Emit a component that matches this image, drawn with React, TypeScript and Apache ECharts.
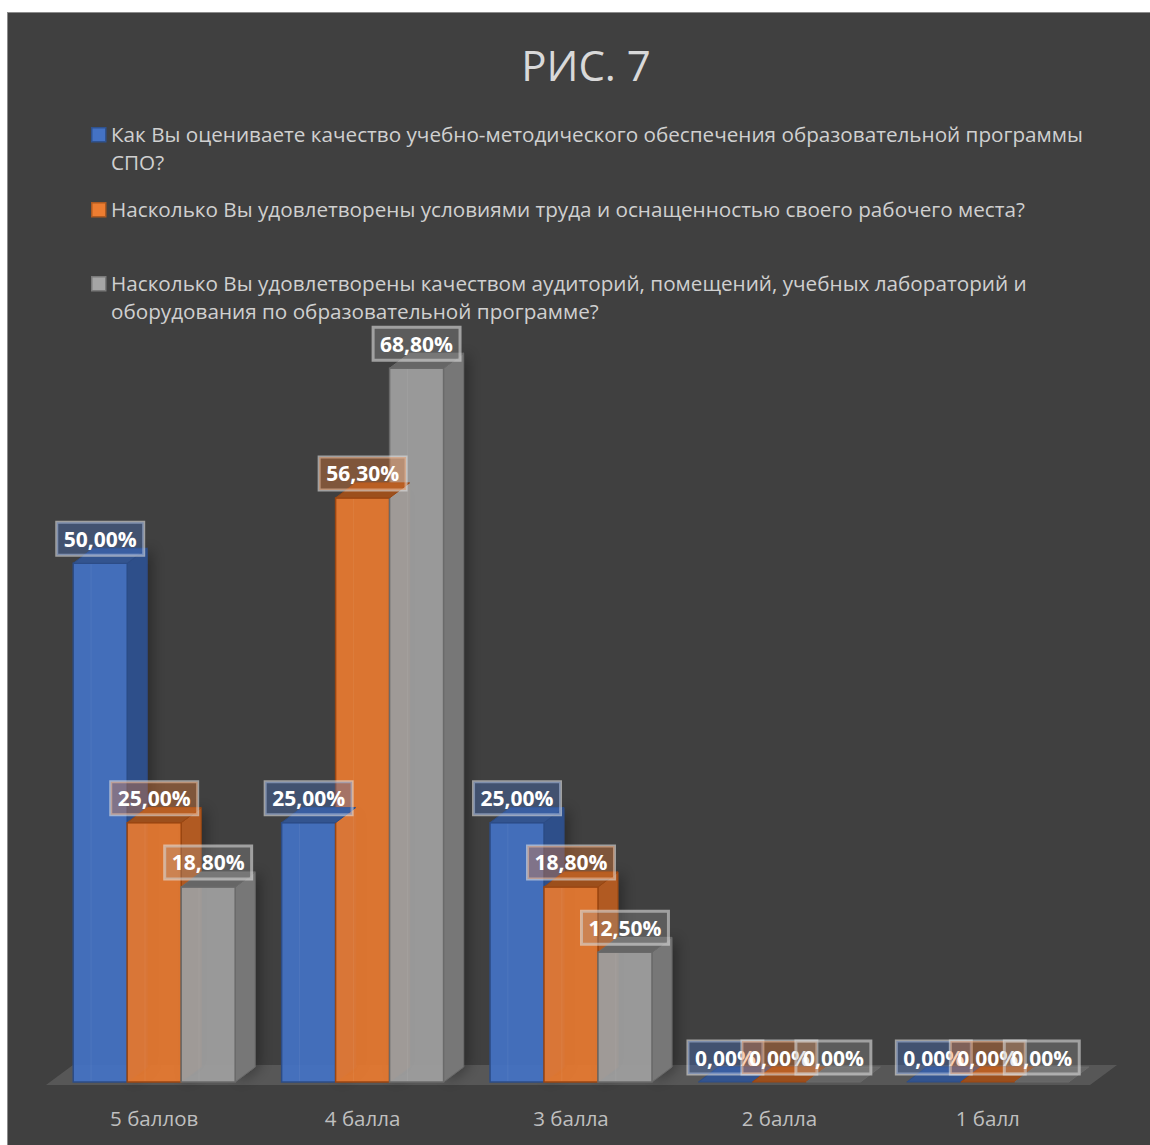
import React, { useEffect, useRef } from "react";
import * as echarts from "echarts";

const TITLE = "РИС. 7";
const CATEGORIES = ["5 баллов", "4 балла", "3 балла", "2 балла", "1 балл"];
const SERIES_NAMES = [
  "Как Вы оцениваете качество учебно-методического обеспечения образовательной программы СПО?",
  "Насколько Вы удовлетворены условиями труда и оснащенностью своего рабочего места?",
  "Насколько Вы удовлетворены качеством аудиторий, помещений, учебных лабораторий и оборудования по образовательной программе?",
];
const LEGEND_LINES = [
  ["Как Вы оцениваете качество учебно-методического обеспечения образовательной программы", "СПО?"],
  ["Насколько Вы удовлетворены условиями труда и оснащенностью своего рабочего места?"],
  ["Насколько Вы удовлетворены качеством аудиторий, помещений, учебных лабораторий и", "оборудования по образовательной программе?"],
];
const LEGEND_CENTERS = [121, 196, 270];

const VALUES_1 = [50, 25, 25, 0, 0];
const VALUES_2 = [25, 56.3, 18.8, 0, 0];
const VALUES_3 = [18.8, 68.8, 12.5, 0, 0];
const SERIES_VALUES = [VALUES_1, VALUES_2, VALUES_3];

const Y_MIN = 0;
const Y_MAX = 80;

const PALETTE = [
  { front: "rgba(68,114,196,0.93)", stroke: "#2c4c86", top: "#33548f", side: "#2f4f8a", labelBg: "rgba(68,114,196,0.36)", legend: "#4472c4", legendStroke: "#2f528f" },
  { front: "rgba(232,122,48,0.92)", stroke: "#9a4612", top: "#9c4f1c", side: "#b15a20", labelBg: "rgba(237,125,49,0.36)", legend: "#ed7d31", legendStroke: "#ae5a21" },
  { front: "rgba(158,158,158,0.95)", stroke: "#6a6a6a", top: "#666666", side: "#777777", labelBg: "rgba(165,165,165,0.28)", legend: "#a5a5a5", legendStroke: "#7a7a7a" },
];

const BAR_RATIO = 0.259;
const DEPTH_X = 20;
const DEPTH_Y = 15;

const fmt = (v: number) => v.toFixed(2).replace(".", ",") + "%";

function makeRenderItem(sIdx: number) {
  return (params: any, api: any) => {
    const cat = api.value(0);
    const val = api.value(1);
    const base = api.coord([cat, 0]);
    const topP = api.coord([cat, val]);
    const band = api.size([1, 0])[0];
    const w = band * BAR_RATIO;
    const cx = base[0] + (sIdx - 1) * w;
    const x0 = cx - w / 2;
    const x1 = cx + w / 2;
    const yb = base[1];
    const yt = topP[1];
    const c = PALETTE[sIdx];
    const children: any[] = [];

    if (sIdx === 0 && params.dataIndex === 0) {
      const first = api.coord([0, 0]);
      const last = api.coord([CATEGORIES.length - 1, 0]);
      const fx0 = first[0] - band / 2 - 4;
      const fx1 = last[0] + band / 2 - 2;
      const fy = yb + 3;
      children.push({
        type: "polygon",
        z2: -10,
        shape: { points: [[fx0, fy], [fx1, fy], [fx1 + 27, fy - 20], [fx0 + 27, fy - 20]] },
        style: { fill: "rgba(92,92,92,0.85)" },
        silent: true,
      });
    }

    const h = yb - yt;
    if (h > 0.5) {
      children.push({
        type: "polygon",
        z2: 1,
        shape: { points: [[x1, yt], [x1 + DEPTH_X, yt - DEPTH_Y], [x1 + DEPTH_X, yb - DEPTH_Y], [x1, yb]] },
        style: { fill: c.side, stroke: c.stroke, lineWidth: 1, shadowBlur: 14, shadowColor: "rgba(0,0,0,0.35)", shadowOffsetX: 4 },
      });
      children.push({
        type: "rect",
        z2: 2,
        shape: { x: x0, y: yt, width: w, height: h },
        style: { fill: c.front, stroke: c.stroke, lineWidth: 1.5 },
      });
      children.push({
        type: "line",
        z2: 3,
        shape: { x1: x0 + w * 0.33, y1: yt + 1, x2: x0 + w * 0.33, y2: yb - 1 },
        style: { stroke: "rgba(255,255,255,0.06)", lineWidth: 1 },
      });
    }
    children.push({
      type: "polygon",
      z2: 4,
      shape: { points: [[x0, yt], [x1, yt], [x1 + DEPTH_X, yt - DEPTH_Y], [x0 + DEPTH_X, yt - DEPTH_Y]] },
      style: { fill: c.top, stroke: c.stroke, lineWidth: 1 },
    });
    children.push({
      type: "text",
      z2: 100,
      x: cx,
      y: yt - 8,
      style: {
        text: fmt(val),
        font: 'bold 21px "Open Sans"',
        fill: "#ffffff",
        align: "center",
        verticalAlign: "bottom",
        backgroundColor: c.labelBg,
        borderColor: "rgba(225,225,225,0.6)",
        borderWidth: 1.5,
        padding: [6, 7, 6, 7],
      },
    });
    return { type: "group", children };
  };
}

export default function App() {
  const ref = useRef<HTMLDivElement>(null);
  useEffect(() => {
    if (!ref.current) return;
    const chart = echarts.init(ref.current, undefined, { renderer: "svg" });
    const graphic: any[] = [];
    LEGEND_LINES.forEach((lines, i) => {
      const cy = LEGEND_CENTERS[i];
      graphic.push({
        type: "rect",
        left: 83,
        top: cy - 7,
        shape: { width: 14, height: 14 },
        style: { fill: PALETTE[i].legend, stroke: PALETTE[i].legendStroke, lineWidth: 1.5 },
      });
      graphic.push({
        type: "text",
        x: 103,
        y: cy - 14,
        style: {
          text: lines.join("\n"),
          font: '20.7px "Open Sans"',
          lineHeight: 28,
          fill: "#d0d0d0",
          verticalAlign: "top",
        },
      });
    });
    chart.setOption({
      animation: false,
      backgroundColor: "#404040",
      title: {
        text: TITLE,
        left: "center",
        top: 25,
        textStyle: { color: "#d9d9d9", fontSize: 42, fontWeight: "normal", fontFamily: "Open Sans" },
      },
      graphic,
      grid: { left: 42, right: 72, top: 239, bottom: 71 },
      xAxis: {
        type: "category",
        data: CATEGORIES,
        axisLine: { show: false },
        axisTick: { show: false },
        axisLabel: { color: "#bfbfbf", fontSize: 20.5, fontFamily: "Open Sans", margin: 25 },
      },
      yAxis: {
        type: "value",
        min: Y_MIN,
        max: Y_MAX,
        show: false,
        splitLine: { show: false },
      },
      series: SERIES_VALUES.map((vals, sIdx) => ({
        type: "custom",
        name: SERIES_NAMES[sIdx],
        renderItem: makeRenderItem(sIdx),
        encode: { x: 0, y: 1 },
        data: vals.map((v, i) => [i, v]),
        clip: false,
      })),
    });
    return () => chart.dispose();
  }, []);
  return (
    <div
      style={{
        position: "fixed",
        left: 7,
        top: 12,
        width: 1160,
        height: 1140,
        borderTop: "1px solid #8c8c8c",
        borderLeft: "1px solid #8c8c8c",
        background: "#404040",
        overflow: "hidden",
      }}
    >
      <div ref={ref} style={{ width: 1156, height: 1140 }} />
    </div>
  );
}
